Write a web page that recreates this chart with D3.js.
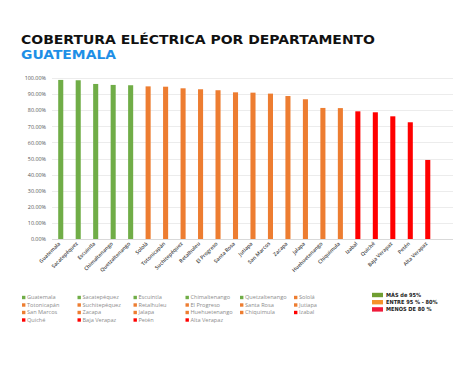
<!DOCTYPE html>
<html>
<head>
<meta charset="utf-8">
<script src="https://cdn.jsdelivr.net/npm/d3@7"></script>
<style>
html,body{margin:0;padding:0;background:#fff;}
svg{display:block;}
</style>
</head>
<body>
<script>
const categories = ["Guatemala","Sacatepéquez","Escuintla","Chimaltenango","Quetzaltenango","Sololá","Totonicapán","Suchitepéquez","Retalhuleu","El Progreso","Santa Rosa","Jutiapa","San Marcos","Zacapa","Jalapa","Huehuetenango","Chiquimula","Izabal","Quiché","Baja Verapaz","Petén","Alta Verapaz"];
const coverage = [0.988,0.986,0.963,0.957,0.955,0.948,0.946,0.936,0.930,0.924,0.911,0.909,0.903,0.888,0.868,0.814,0.813,0.793,0.787,0.762,0.725,0.491];
const groups = ["high","high","high","high","high","mid","mid","mid","mid","mid","mid","mid","mid","mid","mid","mid","mid","low","low","low","low","low"];
const yTicks = [0,0.1,0.2,0.3,0.4,0.5,0.6,0.7,0.8,0.9,1.0];
const groupKeys = ["high","mid","low"];
const groupLabels = ["MÁS de 95%","ENTRE  95 % -  80%","MENOS DE 80 %"];
const titleLine1 = "COBERTURA ELÉCTRICA POR DEPARTAMENTO";
const titleLine2 = "GUATEMALA";

const W = 474, H = 372;
const barColor = d3.scaleOrdinal().domain(groupKeys).range(["#70AD47","#ED7D31","#FF0000"]);
const keyColor = d3.scaleOrdinal().domain(groupKeys).range(["#6F9E31","#F5922A","#F01A3A"]);

const svg = d3.select("body").append("svg").attr("width", W).attr("height", H);
svg.append("rect").attr("width", W).attr("height", H).attr("fill", "#fff");

// Title
const t1 = svg.append("text").attr("x", 21).attr("y", 43.5)
  .attr("font-family", "'DejaVu Sans', sans-serif").attr("font-weight", "bold")
  .attr("font-size", 12.6).attr("fill", "#111").text(titleLine1);
t1.attr("textLength", 354).attr("lengthAdjust", "spacingAndGlyphs");
const t2 = svg.append("text").attr("x", 21).attr("y", 59.3)
  .attr("font-family", "'DejaVu Sans', sans-serif").attr("font-weight", "bold")
  .attr("font-size", 12.6).attr("fill", "#1E8FE6").text(titleLine2);
t2.attr("textLength", 95).attr("lengthAdjust", "spacingAndGlyphs");

// Scales
const x = d3.scaleBand().domain(categories).range([52, 436.5]).paddingInner(0.71).paddingOuter(0.355);
const y = d3.scaleLinear().domain([0, 1]).range([239, 78]);

// Grid
const gridRight = 453;
svg.append("g").selectAll("line").data(yTicks).join("line")
  .attr("x1", 52).attr("x2", gridRight)
  .attr("y1", d => Math.round(y(d)) + 0.5).attr("y2", d => Math.round(y(d)) + 0.5)
  .attr("stroke", d => d === 0 ? "#d9d9d9" : "#ececec").attr("stroke-width", 1);

// Y axis
const yAxis = d3.axisLeft(y).tickValues(yTicks).tickFormat(d3.format(".2%")).tickSize(0).tickPadding(0);
const gy = svg.append("g").attr("transform", "translate(46,0)").call(yAxis);
gy.select(".domain").remove();
gy.selectAll("text").attr("font-family", "'Open Sans', sans-serif").attr("font-size", 5.4)
  .attr("fill", "#555");

// Bars
svg.append("g").selectAll("rect").data(categories).join("rect")
  .attr("x", d => x(d)).attr("width", x.bandwidth())
  .attr("y", (d, i) => y(coverage[i])).attr("height", (d, i) => y(0) - y(coverage[i]))
  .attr("fill", (d, i) => barColor(groups[i]));

// X axis labels
const xAxis = d3.axisBottom(x).tickSize(0).tickPadding(0);
const gx = svg.append("g").attr("transform", "translate(0,239)").call(xAxis);
gx.select(".domain").remove();
gx.selectAll("text")
  .attr("font-family", "'Open Sans', sans-serif").attr("font-size", 5.2).attr("font-weight", 600).attr("fill", "#444")
  .attr("text-anchor", "end").attr("dy", null).attr("y", 0)
  .attr("transform", "translate(0,5) rotate(-45)");

// Department legend
const leg = svg.append("g");
const colX = [22, 77.5, 133.5, 185.5, 240, 294];
const rowY = [297.5, 305, 312.5, 320];
categories.forEach((c, i) => {
  const col = i % 6, row = Math.floor(i / 6);
  const g = leg.append("g").attr("transform", `translate(${colX[col]},${rowY[row]})`);
  g.append("rect").attr("x", 0).attr("y", -1.7).attr("width", 3.4).attr("height", 3.4)
    .attr("fill", barColor(groups[i]));
  g.append("text").attr("x", 5).attr("y", 0).attr("dy", "0.35em")
    .attr("font-family", "'Open Sans', sans-serif").attr("font-size", 5.6).attr("fill", "#8c8c8c")
    .text(c);
});

// Group key
const key = svg.append("g");
groupKeys.forEach((k, i) => {
  const yy = 295 + i * 7.2;
  key.append("rect").attr("x", 372).attr("y", yy - 2.2).attr("width", 11).attr("height", 4.4)
    .attr("fill", keyColor(k));
  key.append("text").attr("x", 386).attr("y", yy).attr("dy", "0.35em")
    .attr("font-family", "'DejaVu Sans Condensed','Liberation Sans Narrow',sans-serif")
    .attr("font-weight", "bold").attr("font-size", 5.6).attr("fill", "#222")
    .text(groupLabels[i]);
});
</script>
</body>
</html>
